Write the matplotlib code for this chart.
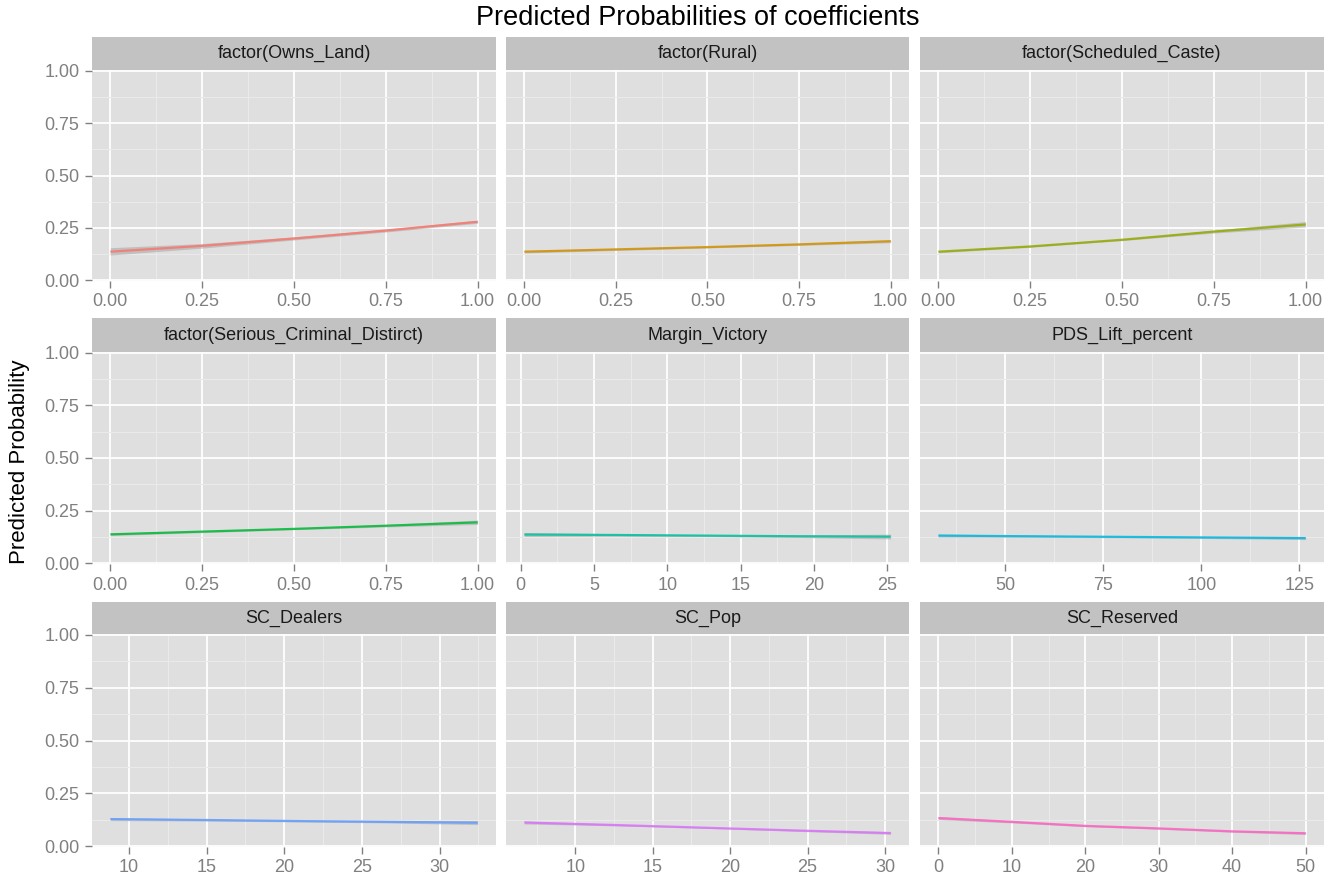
import matplotlib
matplotlib.use('Agg')
import matplotlib.pyplot as plt
from matplotlib.ticker import MultipleLocator, AutoMinorLocator, FormatStrFormatter

plt.rcParams['font.family'] = ['Liberation Sans', 'DejaVu Sans']

# panel names, in facet order
panels = ['factor(Owns_Land)', 'factor(Rural)', 'factor(Scheduled_Caste)',
          'factor(Serious_Criminal_Distirct)', 'Margin_Victory', 'PDS_Lift_percent',
          'SC_Dealers', 'SC_Pop', 'SC_Reserved']

colors = ['#F8766D', '#D39200', '#93AA00', '#00BA38', '#00C19F',
          '#00B9E3', '#619CFF', '#DB72FB', '#FF61C3']

# x values, fitted probability, and ribbon bounds
xs = [
    [0, 0.25, 0.5, 0.75, 1.0],
    [0, 0.25, 0.5, 0.75, 1.0],
    [0, 0.25, 0.5, 0.75, 1.0],
    [0, 0.25, 0.5, 0.75, 1.0],
    [0.25, 6.5, 12.7, 19.0, 25.23],
    [32.9, 56.3, 79.7, 103.1, 126.6],
    [8.8, 14.7, 20.6, 26.5, 32.45],
    [6.7, 12.6, 18.5, 24.4, 30.37],
    [0, 10, 20, 30, 40, 50],
]
fits = [
    [0.136, 0.164, 0.199, 0.237, 0.279],
    [0.136, 0.147, 0.158, 0.171, 0.186],
    [0.136, 0.161, 0.193, 0.232, 0.266],
    [0.137, 0.150, 0.163, 0.178, 0.194],
    [0.136, 0.134, 0.131, 0.128, 0.126],
    [0.131, 0.128, 0.125, 0.122, 0.119],
    [0.128, 0.124, 0.119, 0.115, 0.111],
    [0.112, 0.100, 0.087, 0.074, 0.062],
    [0.133, 0.115, 0.096, 0.084, 0.070, 0.061],
]
lows = [
    [0.120, 0.153, 0.192, 0.230, 0.272],
    [0.130, 0.142, 0.154, 0.166, 0.179],
    [0.131, 0.157, 0.189, 0.225, 0.254],
    [0.131, 0.145, 0.159, 0.172, 0.184],
    [0.127, 0.128, 0.127, 0.122, 0.115],
    [0.124, 0.123, 0.121, 0.117, 0.112],
    [0.121, 0.119, 0.115, 0.110, 0.102],
    [0.105, 0.096, 0.084, 0.070, 0.056],
    [0.126, 0.110, 0.092, 0.080, 0.066, 0.055],
]
highs = [
    [0.155, 0.175, 0.207, 0.244, 0.286],
    [0.142, 0.152, 0.162, 0.176, 0.193],
    [0.141, 0.165, 0.197, 0.239, 0.280],
    [0.143, 0.155, 0.167, 0.184, 0.205],
    [0.146, 0.140, 0.135, 0.134, 0.138],
    [0.139, 0.133, 0.129, 0.127, 0.127],
    [0.135, 0.129, 0.123, 0.121, 0.121],
    [0.119, 0.104, 0.090, 0.078, 0.068],
    [0.140, 0.120, 0.100, 0.088, 0.075, 0.067],
]
x_steps = [0.25, 0.25, 0.25, 0.25, 5, 25, 5, 5, 10]
y_ticks = [0.0, 0.25, 0.5, 0.75, 1.0]

W, H = 1339, 884
fig = plt.figure(figsize=(W / 100, H / 100), dpi=100)

# pixel boxes of the facets
cols = [(92, 496), (506, 909), (920, 1324)]
rows = [(37, 70, 281), (318, 352, 564), (602, 634, 847)]

tick_col = '#808080'
for i, name in enumerate(panels):
    r, c = divmod(i, 3)
    x0, x1 = cols[c]
    s0, p0, p1 = rows[r]
    ax = fig.add_axes([x0 / W, 1 - p1 / H, (x1 - x0) / W, (p1 - p0) / H])
    ax.set_facecolor('#DFDFDF')
    for sp in ax.spines.values():
        sp.set_visible(False)

    ax.fill_between(xs[i], lows[i], highs[i], color='#999999', alpha=0.45, lw=0, zorder=3)
    ax.plot(xs[i], fits[i], color=colors[i], lw=1.6, alpha=0.85, zorder=4,
            solid_capstyle='butt')

    span = xs[i][-1] - xs[i][0]
    ax.set_xlim(xs[i][0] - 0.05 * span, xs[i][-1] + 0.05 * span)
    ax.set_ylim(-0.004, 1.004)
    ax.xaxis.set_major_locator(MultipleLocator(x_steps[i]))
    ax.xaxis.set_minor_locator(AutoMinorLocator(2))
    ax.set_yticks(y_ticks)
    ax.yaxis.set_minor_locator(AutoMinorLocator(2))
    if x_steps[i] < 1:
        ax.xaxis.set_major_formatter(FormatStrFormatter('%.2f'))
    else:
        ax.xaxis.set_major_formatter(FormatStrFormatter('%d'))
    ax.yaxis.set_major_formatter(FormatStrFormatter('%.2f'))

    ax.grid(True, which='major', color='white', lw=1.3, zorder=1)
    ax.grid(True, which='minor', color='#EAEAEA', lw=0.8, zorder=0.5)
    ax.set_axisbelow(True)
    ax.tick_params(which='major', length=5, width=1, color=tick_col,
                   labelcolor=tick_col, labelsize=13, pad=4)
    ax.tick_params(which='minor', length=0)
    if c != 0:
        ax.tick_params(axis='y', labelleft=False, length=0)

    # strip above the panel
    st = fig.add_axes([x0 / W, 1 - p0 / H, (x1 - x0) / W, (p0 - s0) / H])
    st.set_facecolor('#C2C2C2')
    st.set_xticks([])
    st.set_yticks([])
    for sp in st.spines.values():
        sp.set_visible(False)
    st.text(0.5, 0.5, name, ha='center', va='center', fontsize=13,
            color='#1A1A1A', transform=st.transAxes)

fig.text(698 / W, 1 - 18 / H, 'Predicted Probabilities of coefficients',
         ha='center', va='center', fontsize=19.5, color='black')
fig.text(20 / W, 1 - 462 / H, 'Predicted Probability', rotation=90,
         ha='center', va='center', fontsize=16, color='black')

fig.savefig('out.png', dpi=100, facecolor='white')
